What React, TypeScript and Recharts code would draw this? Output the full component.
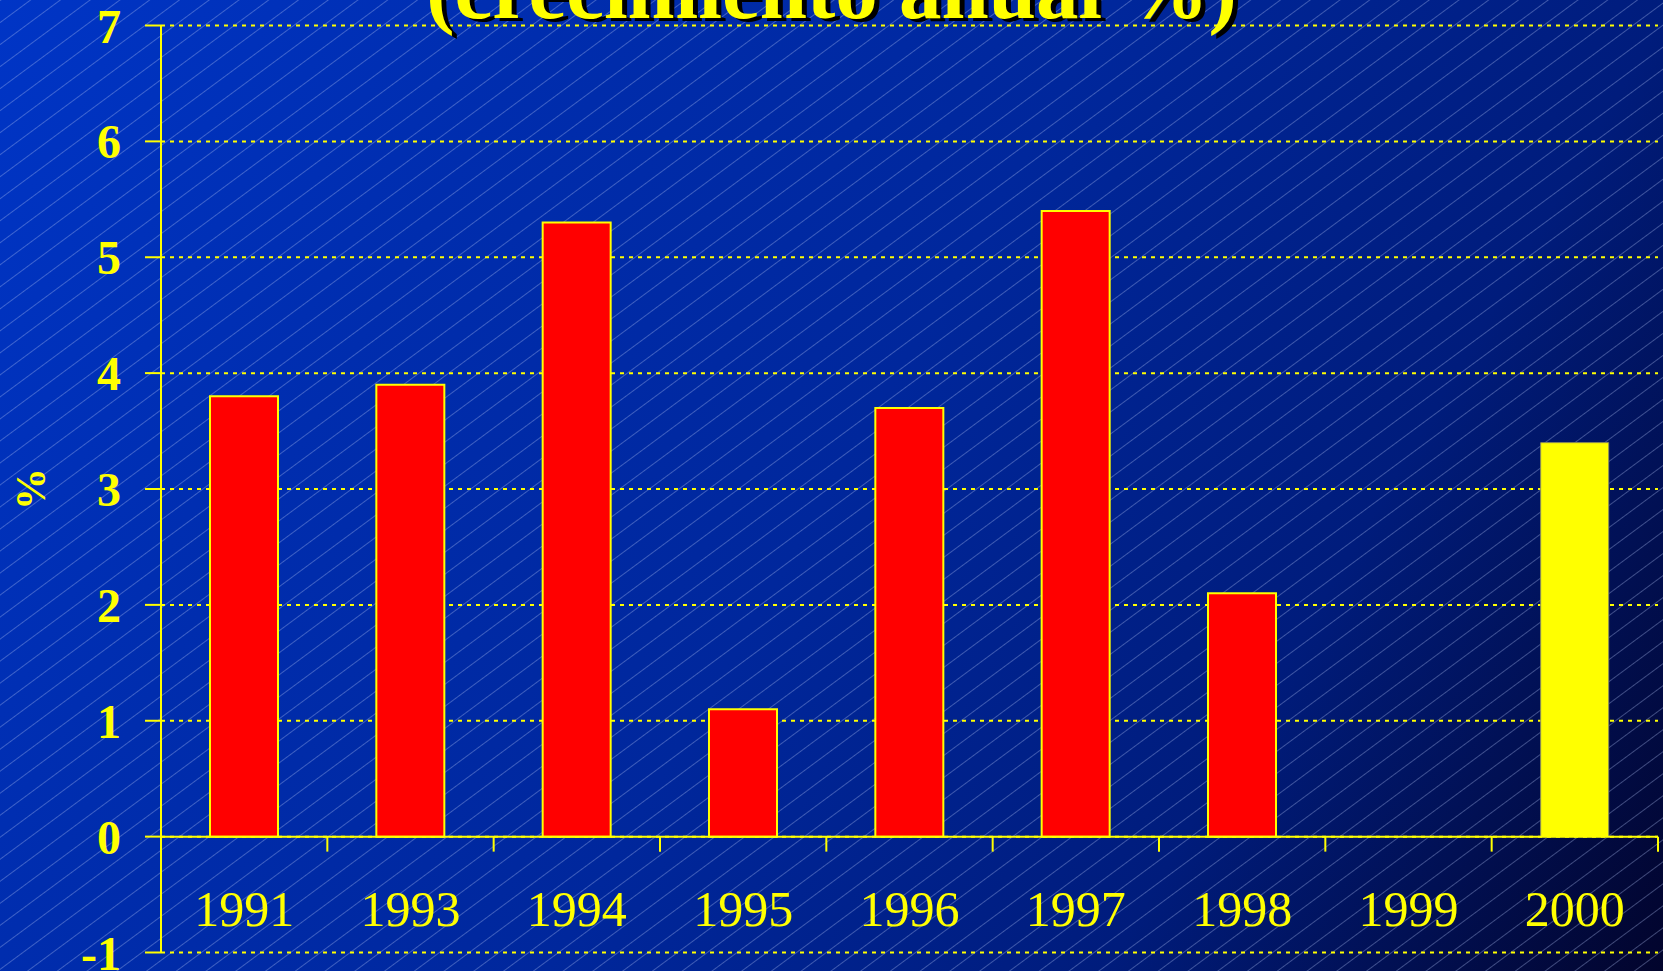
import React from 'react';
import { BarChart, Bar, XAxis, YAxis, CartesianGrid, ReferenceLine, Cell } from 'recharts';

const W = 1663;
const H = 971;

const years = ['1991', '1993', '1994', '1995', '1996', '1997', '1998', '1999', '2000'];
const growth: (number | null)[] = [3.8, 3.9, 5.3, 1.1, 3.7, 5.4, 2.1, null, 3.4];
const barFills = ['#FF0000', '#FF0000', '#FF0000', '#FF0000', '#FF0000', '#FF0000', '#FF0000', '#FF0000', '#FFFF00'];
const barStrokes = ['#FFFF00', '#FFFF00', '#FFFF00', '#FFFF00', '#FFFF00', '#FFFF00', '#FFFF00', '#FFFF00', '#8f8f5a'];
const yTicks = [-1, 0, 1, 2, 3, 4, 5, 6, 7];
const titleText = '(crecimiento anual %)';
const yLabel = '%';

const data = years.map((y, i) => ({ year: y, v: growth[i] }));

const YELLOW = '#FFFF00';
const SERIF = '"Liberation Serif", "Times New Roman", serif';

const MARGIN = { top: 25.5, right: 5, bottom: 0, left: 0 };
const Y_AXIS_W = 161;
const X_AXIS_H = 18.5;
const PLOT_TOP = MARGIN.top;
const PLOT_BOTTOM = H - MARGIN.bottom - X_AXIS_H;
const Y_MIN = -1;
const Y_MAX = 7;
const Y0 = PLOT_TOP + ((Y_MAX - 0) / (Y_MAX - Y_MIN)) * (PLOT_BOTTOM - PLOT_TOP);
const BAND = (W - Y_AXIS_W - MARGIN.right - MARGIN.left) / years.length;
const LABEL_BASELINE = 926;

function XTick(props: any) {
  const { x, payload } = props;
  const bx = x + BAND / 2;
  return (
    <g>
      <text x={x} y={LABEL_BASELINE} textAnchor="middle" fill={YELLOW} fontSize={50} fontFamily={SERIF}>
        {payload.value}
      </text>
      <line x1={bx} x2={bx} y1={Y0} y2={Y0 + 15} stroke={YELLOW} strokeWidth={2} />
    </g>
  );
}

export default function App() {
  return (
    <div style={{ position: 'absolute', left: 0, top: 0, width: W, height: H, overflow: 'hidden' }}>
      <svg width={W} height={H} style={{ position: 'absolute', left: 0, top: 0 }}>
        <defs>
          <linearGradient id="bg" x1="0" y1="0" x2={W} y2={H} gradientUnits="userSpaceOnUse">
            <stop offset="0" stopColor="#0035C6" />
            <stop offset="0.25" stopColor="#002DAE" />
            <stop offset="0.5" stopColor="#00279C" />
            <stop offset="0.75" stopColor="#001C7C" />
            <stop offset="1" stopColor="#02042C" />
          </linearGradient>
          <pattern id="hatch" width="20" height="17.7" patternUnits="userSpaceOnUse" patternTransform="rotate(-36.5)">
            <line x1="0" y1="0.5" x2="20" y2="0.5" stroke="rgba(175,190,240,0.36)" strokeWidth={1} />
          </pattern>
        </defs>
        <rect x={0} y={0} width={W} height={H} fill="url(#bg)" />
        <rect x={0} y={0} width={W} height={H} fill="url(#hatch)" />
      </svg>
      <div style={{ position: 'absolute', left: 0, top: 0 }}>
        <BarChart width={W} height={H} data={data} margin={MARGIN}>
          <CartesianGrid vertical={false} stroke={YELLOW} strokeWidth={2} strokeDasharray="4 5" />
          <XAxis
            dataKey="year"
            height={X_AXIS_H}
            axisLine={false}
            tickLine={false}
            interval={0}
            tick={<XTick />}
          />
          <YAxis
            type="number"
            domain={[Y_MIN, Y_MAX]}
            ticks={yTicks}
            interval={0}
            allowDataOverflow
            width={Y_AXIS_W}
            axisLine={{ stroke: YELLOW, strokeWidth: 2 }}
            tickLine={{ stroke: YELLOW, strokeWidth: 2 }}
            tickSize={16}
            tickMargin={24}
            tick={{ fill: YELLOW, fontSize: 48, fontWeight: 'bold', fontFamily: SERIF }}
          />
          <Bar dataKey="v" barSize={68} isAnimationActive={false}>
            {data.map((d, i) => (
              <Cell key={d.year} fill={barFills[i]} stroke={barStrokes[i]} strokeWidth={i === 8 ? 1 : 2} />
            ))}
          </Bar>
          <ReferenceLine y={0} stroke={YELLOW} strokeWidth={2} />
        </BarChart>
      </div>
      <svg width={W} height={H} style={{ position: 'absolute', left: 0, top: 0, pointerEvents: 'none' }}>
        <text x={W / 2 + 5} y={21} textAnchor="middle" fill="#000000" fontSize={85} fontWeight="bold" fontFamily={SERIF}>
          {titleText}
        </text>
        <text x={W / 2} y={17.5} textAnchor="middle" fill={YELLOW} fontSize={85} fontWeight="bold" fontFamily={SERIF}>
          {titleText}
        </text>
        <text
          transform="translate(31,489) rotate(-90)"
          textAnchor="middle"
          dominantBaseline="central"
          fill={YELLOW}
          fontSize={42}
          fontWeight="bold"
          fontFamily={SERIF}
        >
          {yLabel}
        </text>
      </svg>
    </div>
  );
}
